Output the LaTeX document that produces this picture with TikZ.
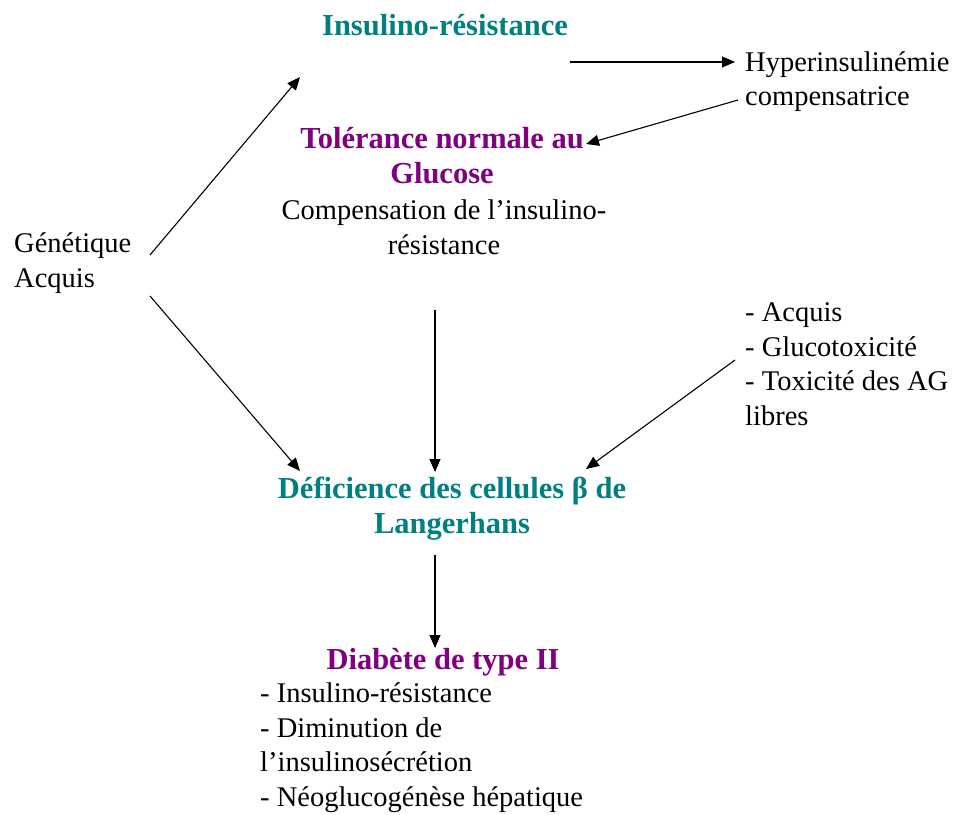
\documentclass[tikz,border=0pt]{standalone}
\usepackage{fontspec}
\setmainfont{Liberation Serif}
\usetikzlibrary{arrows.meta}
\definecolor{tealc}{RGB}{0,128,128}
\definecolor{purpc}{RGB}{128,0,128}
\tikzset{
  txt/.style={inner sep=0pt, font=\fontsize{28.5}{34.4}\selectfont},
  ttl/.style={inner sep=0pt, font=\bfseries\fontsize{30.5}{34.4}\selectfont, align=center},
  arr/.style={line width=1.1pt, -{Triangle[length=13pt,width=11pt]}},
}
\begin{document}
\begin{tikzpicture}[x=1pt,y=-1pt]
\useasboundingbox[fill=white] (0,0) rectangle (957,814);
% nodes (base anchor = baseline of the last line)
\node[ttl, text=tealc, anchor=base] (ir) at (445,35) {Insulino-résistance};
\node[txt, align=left, anchor=base west] (hyp) at (745,105.4) {Hyperinsulinémie\\compensatrice};
\node[ttl, text=purpc, anchor=base] (tol) at (442,183) {Tolérance normale au\\Glucose};
\node[txt, align=center, anchor=base] (comp) at (444,254) {Compensation de l’insulino-\\résistance};
\node[txt, align=left, anchor=base west] (gen) at (14,287) {Génétique\\Acquis};
\node[txt, align=left, anchor=base west] (acq) at (745,425) {- Acquis\\- Glucotoxicité\\- Toxicité des AG\\libres};
\node[ttl, text=tealc, anchor=base] (def) at (452,533) {Déficience des cellules β de\\Langerhans};
\node[ttl, text=purpc, anchor=base] (dia) at (443,669) {Diabète de type II};
\node[txt, align=left, anchor=base west] (sym) at (260,806) {- Insulino-résistance\\- Diminution de\\l’insulinosécrétion\\- Néoglucogénèse hépatique};
% free ends
\coordinate (g1) at (150,255);
\coordinate (g1e) at (300,77);
\coordinate (g2) at (150,296);
\coordinate (g2e) at (300,471);
\coordinate (i1) at (570,62);
\coordinate (i1e) at (735,62);
\coordinate (h1) at (738,100);
\coordinate (h1e) at (586,144);
\coordinate (c1) at (435,310);
\coordinate (c1e) at (435,472);
\coordinate (a1) at (735,360);
\coordinate (a1e) at (586,469);
\coordinate (d1) at (435,555);
\coordinate (d1e) at (435,648);
% arrows
\draw[arr] (g1) -- (g1e);
\draw[arr] (g2) -- (g2e);
\draw[arr] (i1) -- (i1e);
\draw[arr] (h1) -- (h1e);
\draw[arr] (c1) -- (c1e);
\draw[arr] (a1) -- (a1e);
\draw[arr] (d1) -- (d1e);
\end{tikzpicture}
\end{document}
